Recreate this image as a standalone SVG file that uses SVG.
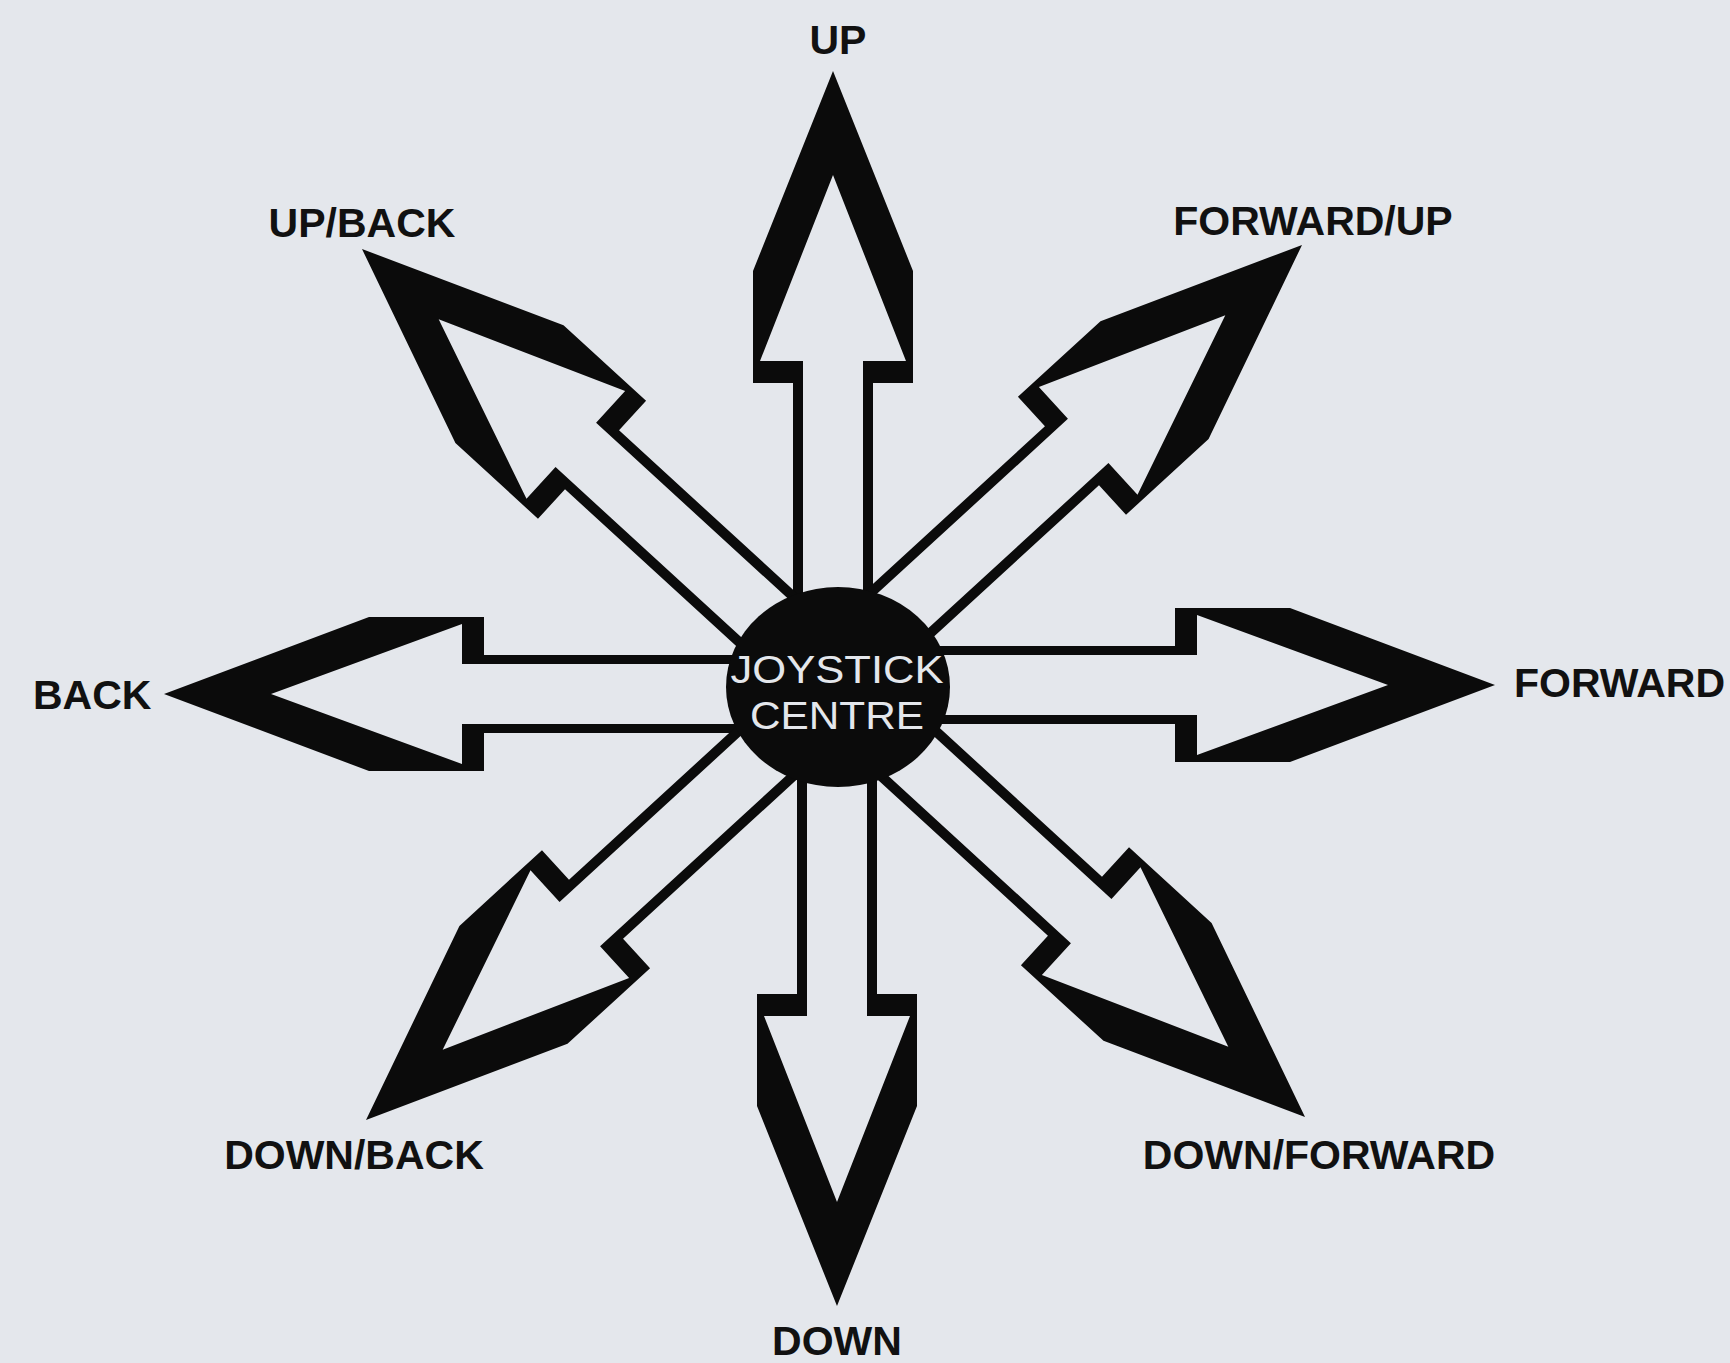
<svg xmlns="http://www.w3.org/2000/svg" xmlns:xlink="http://www.w3.org/1999/xlink" width="1730" height="1363" viewBox="0 0 1730 1363">
<style>
.lbl{font-family:"Liberation Sans",Arial,Helvetica,sans-serif;font-weight:bold;font-size:41px;fill:#111111}
.ctr{font-family:"Liberation Sans",Arial,Helvetica,sans-serif;font-size:39px;fill:#e4e7ec}
.arw{fill:#0b0b0b;fill-rule:evenodd}
</style>
<defs>
<path id="arrow" class="arw" d="M0,0 L80,200 L80,312 L40,312 L40,660 L-40,660 L-40,312 L-80,312 L-80,200 Z M0,104 L73,290 L30,290 L30,660 L-30,660 L-30,290 L-73,290 Z"/>
<path id="arrowH" class="arw" d="M0,0 L77,205 L77,320 L39,320 L39,660 L-39,660 L-39,320 L-77,320 L-77,205 Z M0,107 L70,298 L30,298 L30,660 L-30,660 L-30,298 L-70,298 Z"/>
</defs>
<rect width="1730" height="1363" fill="#e4e7ec"/>
<g id="connectors">
<use xlink:href="#arrow" href="#arrow" transform="translate(833,71)"/>
<use xlink:href="#arrow" href="#arrow" transform="translate(837,1306) rotate(180)"/>
<use xlink:href="#arrowH" href="#arrowH" transform="translate(164,694) rotate(-90)"/>
<use xlink:href="#arrowH" href="#arrowH" transform="translate(1495,685) rotate(90)"/>
<use xlink:href="#arrow" href="#arrow" transform="translate(362,249) rotate(-47.5)"/>
<use xlink:href="#arrow" href="#arrow" transform="translate(1302,245) rotate(47.5)"/>
<use xlink:href="#arrow" href="#arrow" transform="translate(366,1120) rotate(-132.5)"/>
<use xlink:href="#arrow" href="#arrow" transform="translate(1305,1117) rotate(132.5)"/>
</g>
<g id="joystick-centre">
<ellipse cx="838" cy="687" rx="112" ry="100" fill="#0b0b0b"/>
<text class="ctr" x="837" y="683" text-anchor="middle" textLength="213" lengthAdjust="spacingAndGlyphs">JOYSTICK</text>
<text class="ctr" x="837" y="729" text-anchor="middle" textLength="174" lengthAdjust="spacingAndGlyphs">CENTRE</text>
</g>
<g id="label-up"><text class="lbl" x="838" y="54" text-anchor="middle">UP</text></g>
<g id="label-up-back"><text class="lbl" x="362" y="237" text-anchor="middle">UP/BACK</text></g>
<g id="label-forward-up"><text class="lbl" x="1313" y="235" text-anchor="middle">FORWARD/UP</text></g>
<g id="label-back"><text class="lbl" x="33" y="709">BACK</text></g>
<g id="label-forward"><text class="lbl" x="1514" y="697">FORWARD</text></g>
<g id="label-down-back"><text class="lbl" x="354" y="1169" text-anchor="middle">DOWN/BACK</text></g>
<g id="label-down-forward"><text class="lbl" x="1319" y="1169" text-anchor="middle">DOWN/FORWARD</text></g>
<g id="label-down"><text class="lbl" x="837" y="1355" text-anchor="middle">DOWN</text></g>
</svg>
